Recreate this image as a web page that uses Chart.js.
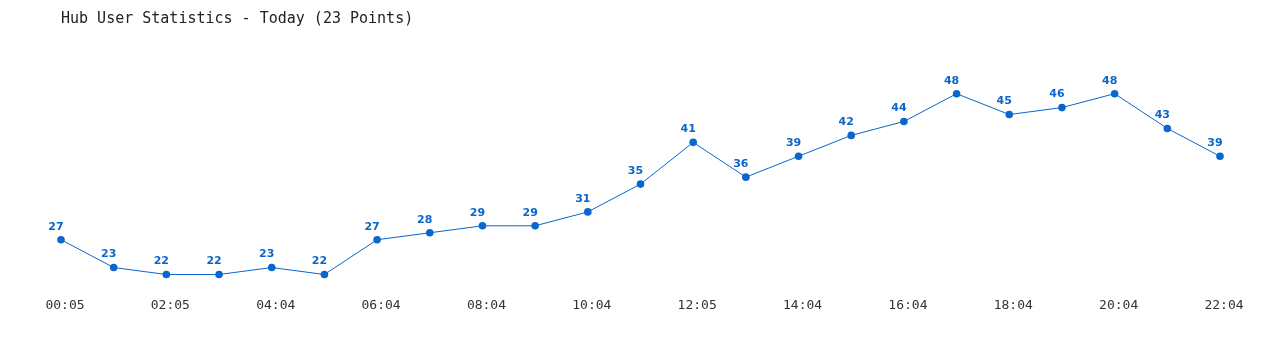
<!DOCTYPE html>
<html>
<head>
<meta charset="utf-8">
<title>Hub User Statistics</title>
<script src="https://cdn.jsdelivr.net/npm/chart.js@4"></script>
<style>
  html, body { margin: 0; padding: 0; background: #fff; }
  #wrap { width: 1280px; height: 350px; }
</style>
</head>
<body>
<div id="wrap"><canvas id="chart" width="1280" height="350"></canvas></div>
<script>
// =======================
// Data
// =======================
const timeLabels = [
  "00:05", "01:05", "02:05", "03:04", "04:04", "05:04", "06:04", "07:04",
  "08:04", "09:04", "10:04", "11:04", "12:05", "13:04", "14:04", "15:04",
  "16:04", "17:04", "18:04", "19:04", "20:04", "21:04", "22:04"
];
const userCounts = [27, 23, 22, 22, 23, 22, 27, 28, 29, 29, 31, 35, 41, 36, 39, 42, 44, 48, 45, 46, 48, 43, 39];
const chartTitle = "Hub User Statistics - Today (23 Points)";

const blue = "#0a66cc";

// =======================
// Value labels above points
// =======================
const pointLabels = {
  id: "pointLabels",
  afterDatasetsDraw(chart) {
    const ctx = chart.ctx;
    const meta = chart.getDatasetMeta(0);
    ctx.save();
    ctx.font = "bold 11px 'DejaVu Sans', Verdana, sans-serif";
    ctx.fillStyle = blue;
    ctx.textAlign = "center";
    ctx.textBaseline = "middle";
    meta.data.forEach((pt, i) => {
      ctx.fillText(String(userCounts[i]), pt.x - 5, pt.y - 13);
    });
    ctx.restore();
  }
};

new Chart(document.getElementById("chart").getContext("2d"), {
  type: "line",
  data: {
    labels: timeLabels,
    datasets: [{
      data: userCounts,
      borderColor: blue,
      backgroundColor: blue,
      borderWidth: 1,
      pointRadius: 3.8,
      pointBorderWidth: 0,
      pointBackgroundColor: blue,
      tension: 0
    }]
  },
  options: {
    responsive: false,
    animation: false,
    layout: { padding: { left: 61, right: 60, top: 0, bottom: 28 } },
    plugins: {
      legend: { display: false },
      tooltip: { enabled: false },
      title: {
        display: true,
        text: chartTitle,
        align: "start",
        color: "#222",
        font: { family: "'DejaVu Sans Mono', monospace", size: 15, weight: "normal" },
        padding: { top: 10, bottom: 17 }
      }
    },
    scales: {
      x: {
        offset: false,
        border: { display: false },
        grid: { display: false, drawTicks: false },
        ticks: {
          autoSkip: false,
          maxRotation: 0,
          padding: 9,
          labelOffset: 4,
          color: "#333",
          font: { family: "'DejaVu Sans Mono', monospace", size: 13 },
          callback: (v, i) => (i % 2 === 0 ? timeLabels[i] : "")
        }
      },
      y: {
        display: false,
        min: 20,
        max: 55
      }
    }
  },
  plugins: [pointLabels]
});
</script>
</body>
</html>
